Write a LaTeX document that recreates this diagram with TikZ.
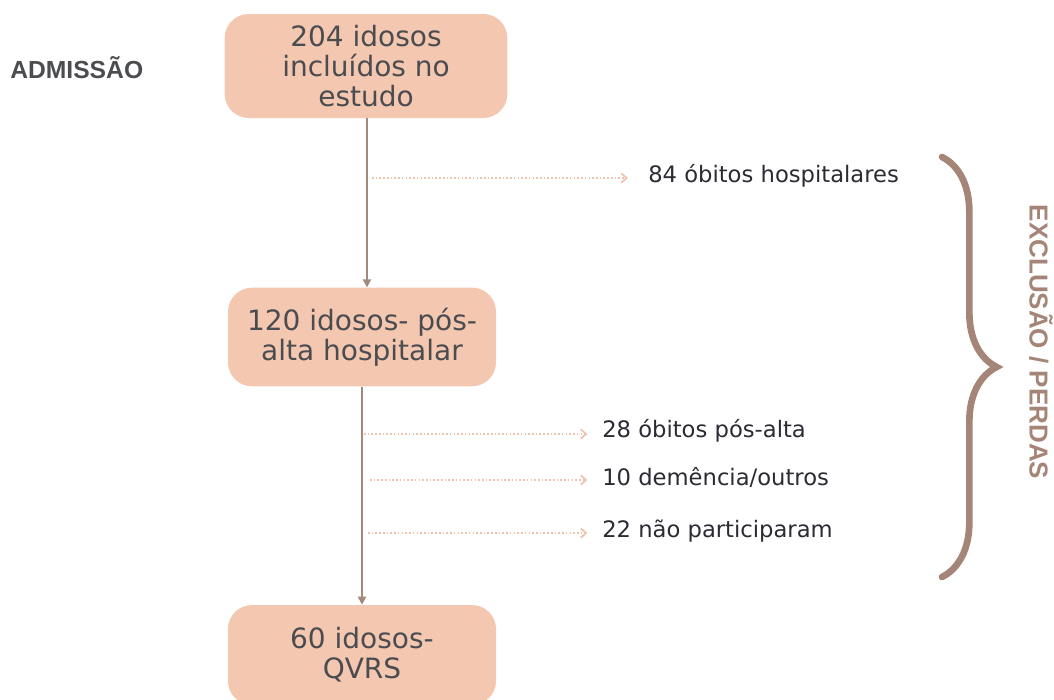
\documentclass[tikz,border=0pt]{standalone}
\usepackage{fontspec}
\setmainfont{DejaVu Sans}
\newfontfamily\headfont{Liberation Sans}
\usetikzlibrary{
	positioning,
	arrows.meta,
	decorations.pathreplacing
}
\definecolor{boxfill}{HTML}{F4C7B1}
\definecolor{boxtext}{HTML}{4A4C50}
\definecolor{flowline}{HTML}{A3897C}
\definecolor{lossline}{HTML}{F0C2AA}
\definecolor{labeltext}{HTML}{2A2B33}
\definecolor{bracecol}{HTML}{A58577}

\begin{document}
\begin{tikzpicture}[x=0.75pt,y=-0.75pt,
  box/.style = {rounded corners=18pt, fill=boxfill, text=boxtext, align=center,
    font=\fontsize{21}{22.5}\selectfont},
  loss/.style = {anchor=west, text=labeltext, inner sep=0pt,
    font=\fontsize{17}{20}\selectfont},
  flow/.style = {draw=flowline, line width=1.3pt, -{Triangle[length=6pt,width=6pt]}},
  lossarrow/.style = {draw=lossline, line width=1.3pt, dash pattern=on 1.2pt off 1.6pt,
    -{Straight Barb[length=4pt,width=7pt,line width=1.3pt]}},
]
\useasboundingbox (0,0) rectangle (1054,700);

% boxes
\node (b0)[box, minimum width=212pt, minimum height=78pt] at (366,66)  {204 idosos\\incluídos no\\estudo};
\node (b1)[box, minimum width=201pt, minimum height=74pt] at (362,337) {120 idosos- pós-\\alta hospitalar};
\node (b2)[box, minimum width=201pt, minimum height=75pt] at (362,655) {60 idosos-\\QVRS};

\node (adm)[anchor=west, text=boxtext, inner sep=0pt, font=\headfont\fontsize{18.5}{20}\bfseries\selectfont] at (10,68) {ADMISSÃO};

% losses
\node (e0)[loss] at (648,176) {84 óbitos hospitalares};
\node (e1)[loss] at (602,431) {28 óbitos pós-alta};
\node (e2)[loss] at (602,477) {10 demência/outros};
\node (e3)[loss] at (602,531) {22 não participaram};

\coordinate (p0) at (372,178);
\coordinate (p1) at (364,434);
\coordinate (p2) at (370,480);
\coordinate (p3) at (368,533);

\draw[flow] (b0.south -| 367,0) -- (b1.north -| 367,0);
\draw[flow] (b1) -- (b2);

\draw[lossarrow] (p0) -- ([xshift=-15pt]p0 -| e0.west);
\draw[lossarrow] (p1) -- ([xshift=-11pt]p1 -| e1.west);
\draw[lossarrow] (p2) -- ([xshift=-11pt]p2 -| e2.west);
\draw[lossarrow] (p3) -- ([xshift=-11pt]p3 -| e3.west);

% brace
\coordinate (t0) at (942,157);
\coordinate (t1) at (942,577);
\draw[bracecol, line width=5pt, line cap=round,
  decorate, decoration={brace, amplitude=41pt}] (t0) -- (t1);
\node (excl)[rotate=-90, text=bracecol, inner sep=0pt,
  font=\headfont\fontsize{19.5}{20}\bfseries\selectfont] at (1041,342) {EXCLUSÃO / PERDAS};
\end{tikzpicture}
\end{document}
